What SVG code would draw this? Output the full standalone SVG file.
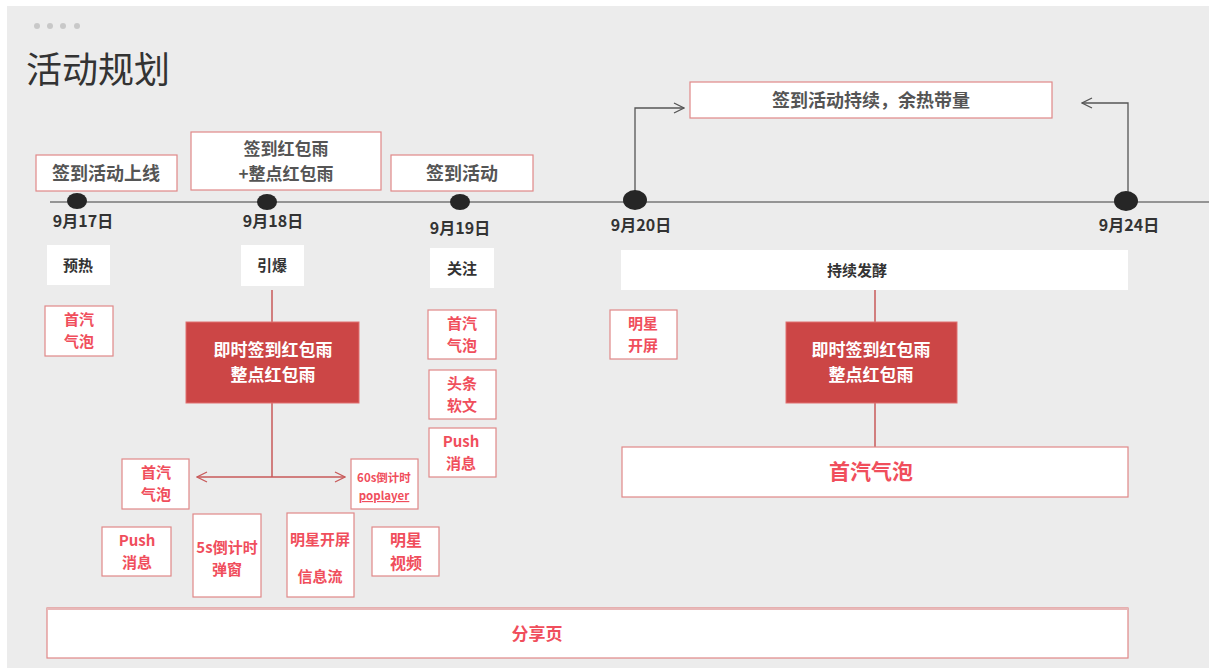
<svg xmlns="http://www.w3.org/2000/svg" width="1209" height="668" viewBox="0 0 1209 668">
<defs>
<style>
text{font-family:"Noto Sans CJK SC","Liberation Sans",sans-serif;text-anchor:middle}
.gt{fill:#555;font-size:18px;font-weight:bold}
.st{fill:#333;font-size:15px;font-weight:bold}
.dt{fill:#333;font-size:16px;font-weight:bold}
.pk{fill:#f04e5c;font-size:15px;font-weight:bold}
.wt{fill:#fff;font-size:17px;font-weight:bold}
.pb{fill:#fff;stroke:#e08888;stroke-width:1.2}
.wb{fill:#fff}
.rb{fill:#cc4646;stroke:#e07070;stroke-width:1}
.tl{stroke:#777;stroke-width:1.5;fill:none}
.ar{stroke:#555;stroke-width:1.3;fill:none}
.rl{stroke:#c85a5a;stroke-width:1.5;fill:none}
.dot{fill:#262626}
</style>
<marker id="oa" viewBox="0 0 12 12" refX="11" refY="6" markerWidth="12" markerHeight="12" markerUnits="userSpaceOnUse" orient="auto"><path d="M1,1 L11,6 L1,11" fill="none" stroke="#555" stroke-width="1.3"/></marker>
<marker id="ra" viewBox="0 0 12 12" refX="11" refY="6" markerWidth="12" markerHeight="12" markerUnits="userSpaceOnUse" orient="auto-start-reverse"><path d="M1,1 L11,6 L1,11" fill="none" stroke="#c85a5a" stroke-width="1.3"/></marker>
</defs>
<rect width="1209" height="668" fill="#fff"/>
<rect x="7" y="6" width="1202" height="662" fill="#ececec"/>
<g id="dots" fill="#c8c8c8"><circle cx="37" cy="26" r="3"/><circle cx="50" cy="26" r="3"/><circle cx="63" cy="26" r="3"/><circle cx="77" cy="26" r="3"/></g>
<text x="26" y="83" style="text-anchor:start;font-size:36px;fill:#333">活动规划</text>

<g id="connectors">
<line class="tl" x1="50" y1="202" x2="1209" y2="202"/>
<polyline class="ar" points="635,192 635,108 684,108" marker-end="url(#oa)"/>
<polyline class="ar" points="1128,192 1128,103 1082,103" marker-end="url(#oa)"/>
<line class="rl" x1="272" y1="290" x2="272" y2="322"/>
<line class="rl" x1="272" y1="403" x2="272" y2="477"/>
<line class="rl" x1="197" y1="477" x2="345" y2="477" marker-start="url(#ra)" marker-end="url(#ra)"/>
<line class="rl" x1="875" y1="290" x2="875" y2="322"/>
<line class="rl" x1="875" y1="403" x2="875" y2="447"/>
</g>

<g id="d917"><ellipse class="dot" cx="77" cy="201" rx="10" ry="8"/><text class="dt" x="83" y="227">9月17日</text></g>
<g id="d918"><ellipse class="dot" cx="267" cy="202" rx="10" ry="8"/><text class="dt" x="273" y="227">9月18日</text></g>
<g id="d919"><ellipse class="dot" cx="460" cy="202" rx="10" ry="8"/><text class="dt" x="460" y="234">9月19日</text></g>
<g id="d920"><ellipse class="dot" cx="635" cy="200" rx="12" ry="10"/><text class="dt" x="641" y="231">9月20日</text></g>
<g id="d924"><ellipse class="dot" cx="1126" cy="201" rx="12" ry="10"/><text class="dt" x="1129" y="231">9月24日</text></g>

<g id="t1"><rect class="pb" x="36" y="155" width="141" height="36"/><text class="gt" x="106" y="180">签到活动上线</text></g>
<g id="t2"><rect class="pb" x="191" y="132" width="190" height="58"/><text class="gt" x="286" y="154.5" style="font-size:17px">签到红包雨<tspan x="286" dy="25">+整点红包雨</tspan></text></g>
<g id="t3"><rect class="pb" x="391" y="155" width="142" height="36"/><text class="gt" x="462" y="180">签到活动</text></g>
<g id="t4"><rect class="pb" x="690" y="82" width="362" height="36"/><text class="gt" x="871" y="107">签到活动持续，余热带量</text></g>

<g id="s1"><rect class="wb" x="47" y="245" width="63" height="40"/><text class="st" x="78" y="271">预热</text></g>
<g id="s2"><rect class="wb" x="241" y="245" width="63" height="41"/><text class="st" x="272" y="271">引爆</text></g>
<g id="s3"><rect class="wb" x="430" y="248" width="64" height="40"/><text class="st" x="462" y="274">关注</text></g>
<g id="s4"><rect class="wb" x="621" y="250" width="507" height="40"/><text class="st" x="857" y="276">持续发酵</text></g>

<g id="p1"><rect class="pb" x="45" y="306" width="68" height="50"/><text class="pk" x="79" y="325">首汽<tspan x="79" dy="22">气泡</tspan></text></g>
<g id="p2"><rect class="pb" x="428" y="310" width="68" height="49"/><text class="pk" x="462" y="328.5">首汽<tspan x="462" dy="22">气泡</tspan></text></g>
<g id="p3"><rect class="pb" x="429" y="370" width="67" height="49"/><text class="pk" x="462" y="388.5">头条<tspan x="462" dy="22">软文</tspan></text></g>
<g id="p4"><rect class="pb" x="429" y="428" width="67" height="49"/><text class="pk" x="461" y="446.5">Push<tspan x="461" dy="22">消息</tspan></text></g>
<g id="p5"><rect class="pb" x="610" y="310" width="67" height="49"/><text class="pk" x="643" y="328.5">明星<tspan x="643" dy="22">开屏</tspan></text></g>

<g id="r1"><rect class="rb" x="186" y="322" width="173" height="81"/><text class="wt" x="273" y="356">即时签到红包雨<tspan x="273" dy="25">整点红包雨</tspan></text></g>
<g id="r2"><rect class="rb" x="786" y="322" width="171" height="81"/><text class="wt" x="871" y="356">即时签到红包雨<tspan x="871" dy="25">整点红包雨</tspan></text></g>

<g id="big1"><rect class="pb" x="622" y="447" width="506" height="50"/><text class="pk" x="871" y="479" style="font-size:21px">首汽气泡</text></g>

<g id="b1"><rect class="pb" x="122" y="459" width="67" height="50"/><text class="pk" x="156" y="478">首汽<tspan x="156" dy="22">气泡</tspan></text></g>
<g id="b2"><rect class="pb" x="351" y="459" width="67" height="50"/><text class="pk" x="384" y="482" style="font-size:11.5px">60s倒计时<tspan x="384" dy="18" style="text-decoration:underline wavy #f04e5c">poplayer</tspan></text></g>
<g id="b3"><rect class="pb" x="102" y="527" width="69" height="49"/><text class="pk" x="137" y="545.5">Push<tspan x="137" dy="22">消息</tspan></text></g>
<g id="b4"><rect class="pb" x="193" y="514" width="68" height="83"/><text class="pk" x="227" y="553">5s倒计时<tspan x="227" dy="22">弹窗</tspan></text></g>
<g id="b5"><rect class="pb" x="287" y="513" width="67" height="84"/><text class="pk" x="320" y="545">明星开屏<tspan x="320" dy="37">信息流</tspan></text></g>
<g id="b6"><rect class="pb" x="372" y="527" width="67" height="49"/><text class="pk" x="406" y="545.5" style="font-size:16px">明星<tspan x="406" dy="23.5">视频</tspan></text></g>

<g id="share"><rect class="pb" x="47" y="608" width="1081" height="50"/><line x1="47" y1="609" x2="1128" y2="609" stroke="#e8b8b8" stroke-width="2"/><text class="pk" x="537" y="640" style="font-size:17px">分享页</text></g>
</svg>
